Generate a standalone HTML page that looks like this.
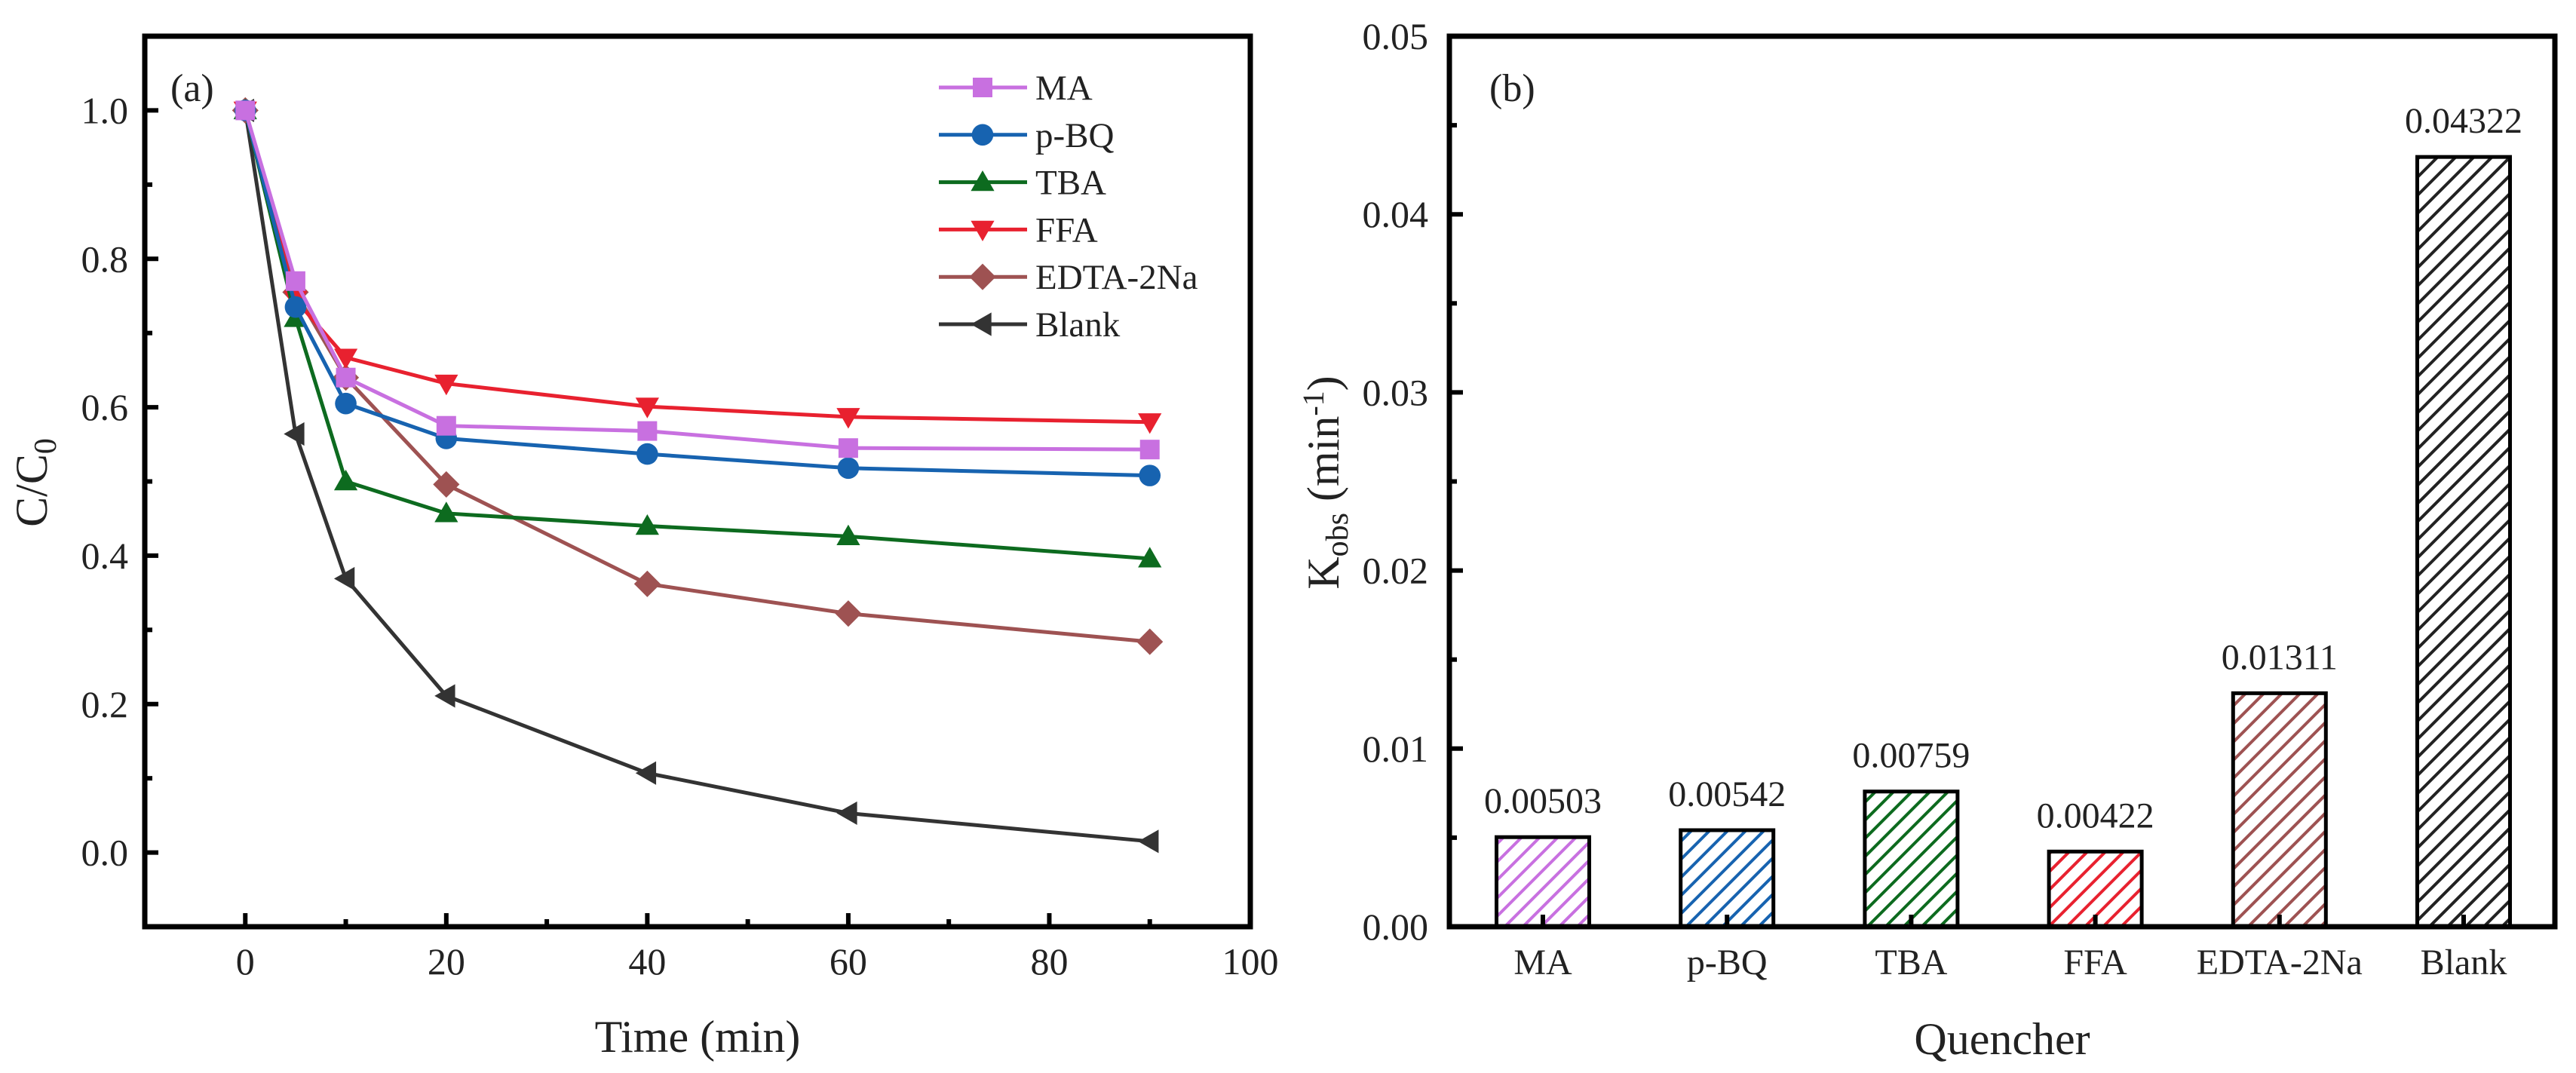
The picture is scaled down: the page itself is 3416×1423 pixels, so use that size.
<!DOCTYPE html>
<html><head><meta charset="utf-8"><style>
html,body{margin:0;padding:0;background:#fff;}
svg{display:block;}
text{font-family:"Liberation Serif",serif;fill:#222;}
</style></head><body>
<svg id="fig" width="3416" height="1423" viewBox="0 0 3416 1423" xmlns="http://www.w3.org/2000/svg">
<defs></defs>
<g id="pa"></g>
<g id="pb"></g>
</svg>
<script>
// Panel (a) data
const times = [0, 5, 10, 20, 40, 60, 90];
const seriesNames = ["MA", "p-BQ", "TBA", "FFA", "EDTA-2Na", "Blank"];
const maVals = [1.0, 0.77, 0.64, 0.575, 0.568, 0.545, 0.543];
const pbqVals = [1.0, 0.735, 0.605, 0.558, 0.537, 0.518, 0.508];
const tbaVals = [1.0, 0.72, 0.50, 0.457, 0.44, 0.426, 0.396];
const ffaVals = [1.0, 0.745, 0.667, 0.632, 0.601, 0.587, 0.58];
const edtaVals = [1.0, 0.755, 0.64, 0.496, 0.362, 0.322, 0.284];
const blankVals = [1.0, 0.564, 0.369, 0.211, 0.107, 0.053, 0.015];
const xTicksA = [0, 20, 40, 60, 80, 100];
const yTicksA = ["0.0", "0.2", "0.4", "0.6", "0.8", "1.0"];
// Panel (b) data
const quenchers = ["MA", "p-BQ", "TBA", "FFA", "EDTA-2Na", "Blank"];
const kobs = [0.00503, 0.00542, 0.00759, 0.00422, 0.01311, 0.04322];
const kobsLabels = ["0.00503", "0.00542", "0.00759", "0.00422", "0.01311", "0.04322"];
const yTicksB = ["0.00", "0.01", "0.02", "0.03", "0.04", "0.05"];

const NS = "http://www.w3.org/2000/svg";
function mk(tag, attrs, parent) {
  const e = document.createElementNS(NS, tag);
  for (const k in attrs) e.setAttribute(k, attrs[k]);
  parent.appendChild(e);
  return e;
}
const colors = ["#c870e0", "#1763b0", "#0d6b1f", "#e8212f", "#9e5252", "#333333"];
const markers = ["square", "circle", "tri-up", "tri-down", "diamond", "tri-left"];

// ===== Panel A =====
const pa = document.getElementById("pa");
const AL = 192, AR = 1658, AT = 48, AB = 1229;
const xA = v => AL + (v - (-10)) / 110 * (AR - AL);
const yA = v => AB - (v - (-0.1)) / 1.2 * (AB - AT);

function marker(type, cx, cy, s, color, parent) {
  let e;
  if (type === "square") e = mk("rect", {x: cx - s, y: cy - s, width: 2 * s, height: 2 * s, fill: color}, parent);
  else if (type === "circle") e = mk("circle", {cx: cx, cy: cy, r: s * 1.1, fill: color}, parent);
  else if (type === "tri-up") e = mk("polygon", {points: `${cx},${cy - s * 1.2} ${cx - s * 1.2},${cy + s * 0.9} ${cx + s * 1.2},${cy + s * 0.9}`, fill: color}, parent);
  else if (type === "tri-down") e = mk("polygon", {points: `${cx},${cy + s * 1.2} ${cx - s * 1.2},${cy - s * 0.9} ${cx + s * 1.2},${cy - s * 0.9}`, fill: color}, parent);
  else if (type === "diamond") e = mk("polygon", {points: `${cx},${cy - s * 1.35} ${cx + s * 1.35},${cy} ${cx},${cy + s * 1.35} ${cx - s * 1.35},${cy}`, fill: color}, parent);
  else e = mk("polygon", {points: `${cx - s * 1.2},${cy} ${cx + s * 0.9},${cy - s * 1.2} ${cx + s * 0.9},${cy + s * 1.2}`, fill: color}, parent);
  return e;
}

const allVals = [maVals, pbqVals, tbaVals, ffaVals, edtaVals, blankVals];
for (let si = allVals.length - 1; si >= 0; si--) {
  const g = mk("g", {}, pa);
  
  
  const pts = times.map((t, i) => xA(t) + "," + yA(allVals[si][i])).join(" ");
  const line = mk("polyline", {points: pts, fill: "none", stroke: colors[si], "stroke-width": 5}, g);
  
  
  times.forEach((t, i) => {
    const m = marker(markers[si], xA(t), yA(allVals[si][i]), 13, colors[si], g);
    
    
  });
}
const fa = mk("rect", {x: AL, y: AT, width: AR - AL, height: AB - AT, fill: "none", stroke: "#000", "stroke-width": 7}, pa);


for (let v = -10; v <= 100; v += 10) {
  const major = v % 20 === 0;
  mk("line", {x1: xA(v), x2: xA(v), y1: AB, y2: AB - (major ? 18 : 10), stroke: "#000", "stroke-width": 6}, pa);
}
xTicksA.forEach(v => {
  const t = mk("text", {x: xA(v), y: AB + 63, "font-size": 50, "text-anchor": "middle"}, pa);
  t.textContent = v;
  
  
});
for (let k = -1; k <= 11; k++) {
  const v = k / 10;
  const major = k % 2 === 0 && k >= 0;
  mk("line", {x1: AL, x2: AL + (major ? 18 : 10), y1: yA(v), y2: yA(v), stroke: "#000", "stroke-width": 6}, pa);
}
yTicksA.forEach(s => {
  const t = mk("text", {x: AL - 22, y: yA(parseFloat(s)) + 17, "font-size": 50, "text-anchor": "end"}, pa);
  t.textContent = s;
  
  
});
</script>
<script>
(function(){
const pa = document.getElementById("pa");
const NS = "http://www.w3.org/2000/svg";
let t = document.createElementNS(NS, "text");
t.setAttribute("x", 925); t.setAttribute("y", 1395); t.setAttribute("font-size", 60); t.setAttribute("text-anchor", "middle");
t.textContent = "Time (min)";


pa.appendChild(t);
t = document.createElementNS(NS, "text");
t.setAttribute("transform", "translate(62,640) rotate(-90)"); t.setAttribute("font-size", 60); t.setAttribute("text-anchor", "middle");
t.innerHTML = 'C/C<tspan font-size="42" dy="12">0</tspan>';


pa.appendChild(t);
t = document.createElementNS(NS, "text");
t.setAttribute("x", 226); t.setAttribute("y", 134); t.setAttribute("font-size", 52);
t.textContent = "(a)";


pa.appendChild(t);
})();
</script>
<script>
(function(){
const pa = document.getElementById("pa");
const NS = "http://www.w3.org/2000/svg";
const names = ["MA", "p-BQ", "TBA", "FFA", "EDTA-2Na", "Blank"];
const cols = ["#c870e0", "#1763b0", "#0d6b1f", "#e8212f", "#9e5252", "#333333"];
const mks = ["square", "circle", "tri-up", "tri-down", "diamond", "tri-left"];
const lg = document.createElementNS(NS, "g");


pa.appendChild(lg);
names.forEach((n, i) => {
  const y = 116 + i * 62.8;
  const g = document.createElementNS(NS, "g");
  
  
  lg.appendChild(g);
  const l = document.createElementNS(NS, "line");
  l.setAttribute("x1", 1245); l.setAttribute("x2", 1362); l.setAttribute("y1", y); l.setAttribute("y2", y);
  l.setAttribute("stroke", cols[i]); l.setAttribute("stroke-width", 5);
  g.appendChild(l);
  marker(mks[i], 1303, y, 13, cols[i], g);
  const t = document.createElementNS(NS, "text");
  t.setAttribute("x", 1373); t.setAttribute("y", y + 16); t.setAttribute("font-size", 47);
  t.textContent = n;
  g.appendChild(t);
});
})();
</script>
<script>
(function(){
const pb = document.getElementById("pb");
const NS = "http://www.w3.org/2000/svg";
function mk(tag, attrs, parent) {
  const e = document.createElementNS(NS, tag);
  for (const k in attrs) e.setAttribute(k, attrs[k]);
  parent.appendChild(e);
  return e;
}
const BL = 1922, BR = 3388, BT = 48, BB = 1229;
const cols = ["#c870e0", "#1763b0", "#0d6b1f", "#e8212f", "#9e5252", "#222222"];
const yB = v => BB - v / 0.05 * (BB - BT);
const defs = document.querySelector("defs");
cols.forEach((c, i) => {
  const p = mk("pattern", {id: "hatch" + i, patternUnits: "userSpaceOnUse", width: 17, height: 17, patternTransform: "rotate(45)"}, defs);
  mk("rect", {x: 0, y: 0, width: 17, height: 17, fill: "#fff"}, p);
  mk("line", {x1: 0, y1: 0, x2: 0, y2: 17, stroke: c, "stroke-width": 8}, p);
});
const bw = 123;
quenchers.forEach((q, i) => {
  const cx = BL + 124 + i * 244.2;
  const r = mk("rect", {x: cx - bw / 2, y: yB(kobs[i]), width: bw, height: BB - yB(kobs[i]), fill: "url(#hatch" + i + ")", stroke: "#000", "stroke-width": 5}, pb);
  
  
  mk("line", {x1: cx, x2: cx, y1: BB, y2: BB - 16, stroke: "#000", "stroke-width": 6}, pb);
  const v = mk("text", {x: cx, y: yB(kobs[i]) - 32, "font-size": 48, "text-anchor": "middle"}, pb);
  v.textContent = kobsLabels[i];
  
  
  const t = mk("text", {x: cx, y: BB + 63, "font-size": 48, "text-anchor": "middle"}, pb);
  t.textContent = q;
  
  
});
const f = mk("rect", {x: BL, y: BT, width: BR - BL, height: BB - BT, fill: "none", stroke: "#000", "stroke-width": 7}, pb);


for (let k = 0; k <= 10; k++) {
  const v = k * 0.005;
  const major = k % 2 === 0;
  mk("line", {x1: BL, x2: BL + (major ? 18 : 10), y1: yB(v), y2: yB(v), stroke: "#000", "stroke-width": 6}, pb);
}
yTicksB.forEach(s => {
  const t = mk("text", {x: BL - 28, y: yB(parseFloat(s)) + 17, "font-size": 50, "text-anchor": "end"}, pb);
  t.textContent = s;
  
  
});
let t = mk("text", {x: 2655, y: 1398, "font-size": 60, "text-anchor": "middle"}, pb);
t.textContent = "Quencher";


t = mk("text", {transform: "translate(1775,640) rotate(-90)", "font-size": 60, "text-anchor": "middle"}, pb);
t.innerHTML = 'K<tspan font-size="42" dy="12">obs</tspan><tspan dy="-12"> (min</tspan><tspan font-size="40" dy="-20">-1</tspan><tspan dy="20">)</tspan>';


t = mk("text", {x: 1975, y: 134, "font-size": 52}, pb);
t.textContent = "(b)";


})();
</script>
</body></html>
